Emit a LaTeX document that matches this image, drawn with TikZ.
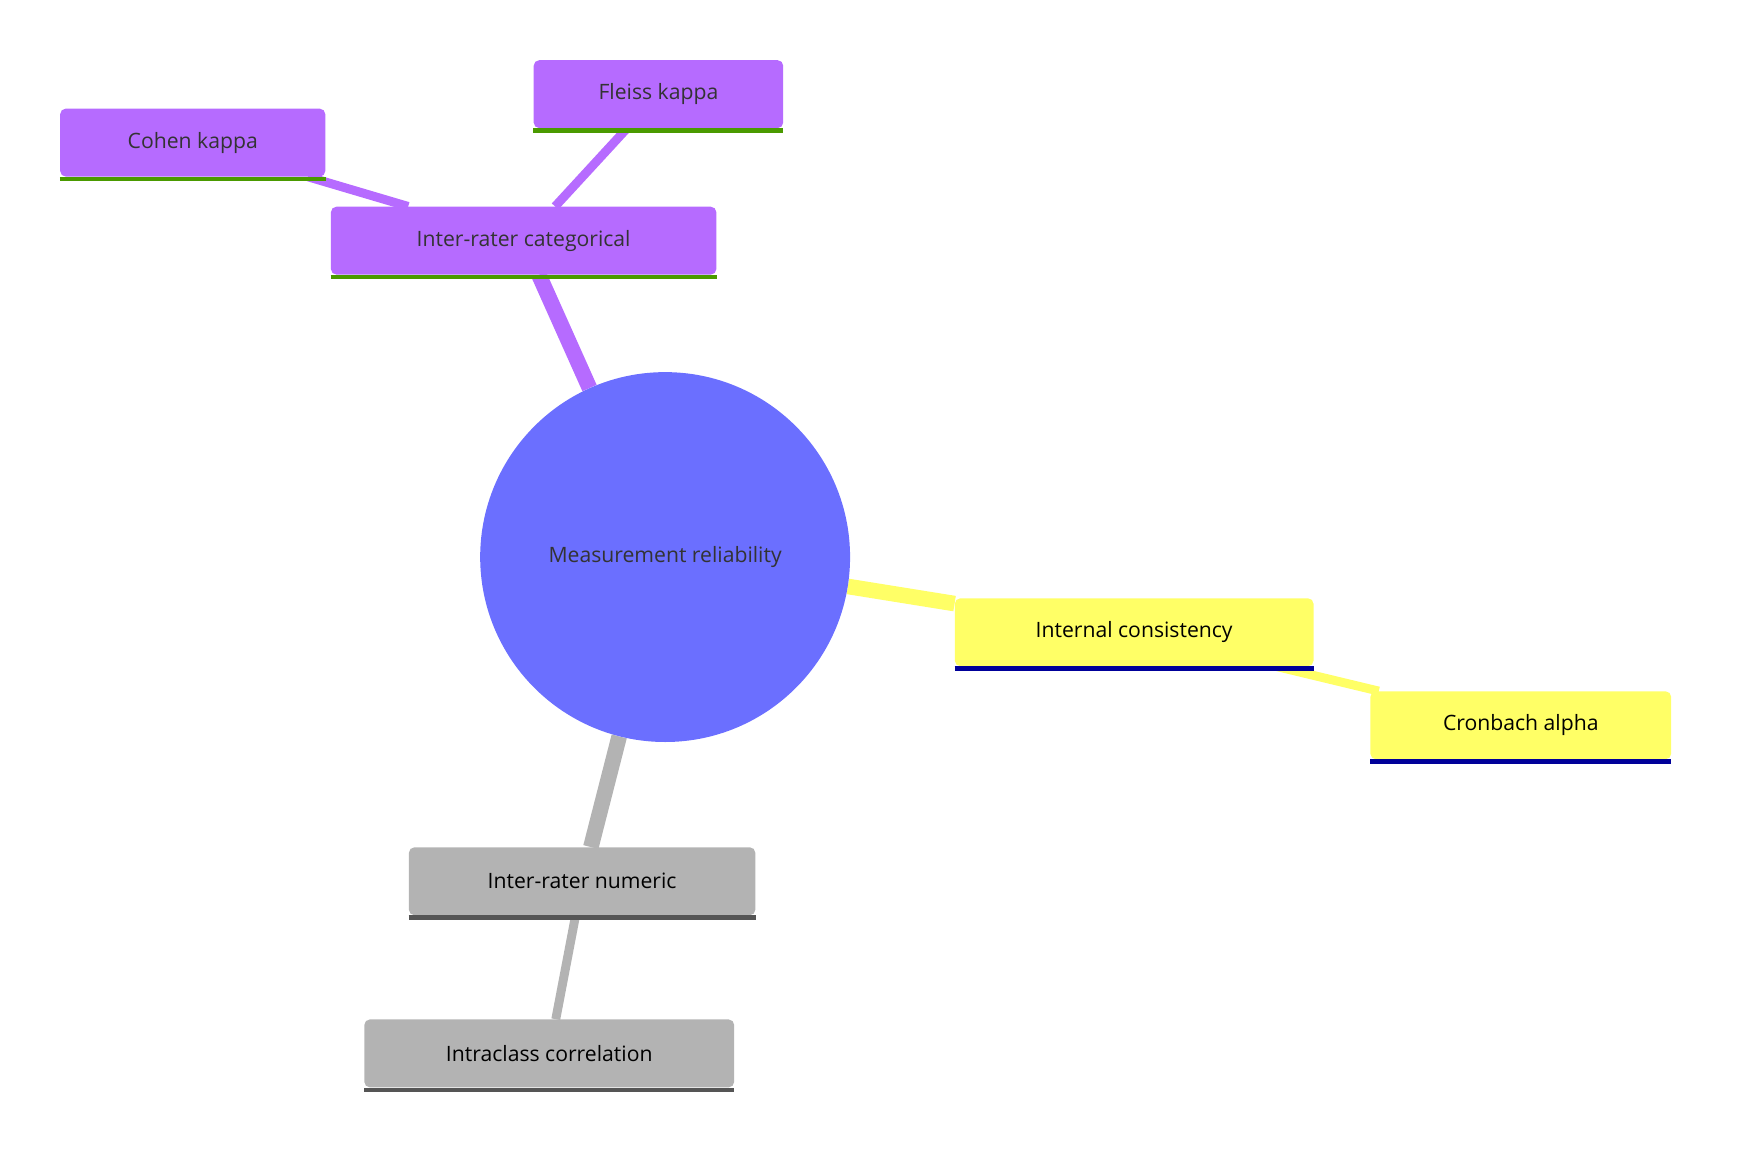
\documentclass[tikz,border=0pt]{standalone}
\usepackage{fontspec}
\setmainfont{Open Sans}
\usetikzlibrary{backgrounds}
\definecolor{cpur}{HTML}{B66BFF}
\definecolor{cgrn}{HTML}{4A9A00}
\definecolor{cyel}{HTML}{FFFF66}
\definecolor{cblu}{HTML}{000099}
\definecolor{cgry}{HTML}{B3B3B3}
\definecolor{cdg}{HTML}{555555}
\definecolor{ccen}{HTML}{6B6FFF}
\begin{document}
\begin{tikzpicture}[x=1pt,y=-1pt,
  box/.style={rectangle,rounded corners=5pt,inner sep=0pt,minimum height=61pt,font=\fontsize{19}{22}\selectfont},
  pbox/.style={box,fill=cpur,text=black!80},
  ybox/.style={box,fill=cyel,text=black},
  gbox/.style={box,fill=cgry,text=black},
  e1/.style={line width=14pt},
  e2/.style={line width=8pt}]
\useasboundingbox (0,0) rectangle (1560,1034);
\node[circle,fill=ccen,minimum size=332pt,inner sep=0pt,text=black!80,font=\fontsize{19}{22}\selectfont] (c) at (597,500) {Measurement reliability};
\node[pbox,minimum width=346pt] (cat) at (470,216) {Inter-rater categorical};
\node[pbox,minimum width=238pt] (coh) at (173,128) {Cohen kappa};
\node[pbox,minimum width=224pt] (fle) at (591,84.5) {Fleiss kappa};
\node[ybox,minimum width=322pt] (int) at (1018,567.5) {Internal consistency};
\node[ybox,minimum width=270pt] (cro) at (1365,651) {Cronbach alpha};
\node[gbox,minimum width=311pt] (num) at (522.5,791) {Inter-rater numeric};
\node[gbox,minimum width=332pt] (icc) at (493,945.5) {Intraclass correlation};
\foreach \n/\col in {cat/cgrn,coh/cgrn,fle/cgrn,int/cblu,cro/cblu,num/cdg,icc/cdg}
  \draw[\col,line width=4pt] ([yshift=-2pt]\n.south west) -- ([yshift=-2pt]\n.south east);
\begin{pgfonlayer}{background}
\draw[e1,cpur] (c) -- (cat);
\draw[e2,cpur] (cat) -- (coh);
\draw[e2,cpur] (cat) -- (fle);
\draw[e1,cyel] (c) -- (int);
\draw[e2,cyel] (int) -- (cro);
\draw[e1,cgry] (c) -- (num);
\draw[e2,cgry] (num) -- (icc);
\end{pgfonlayer}
\end{tikzpicture}
\end{document}
